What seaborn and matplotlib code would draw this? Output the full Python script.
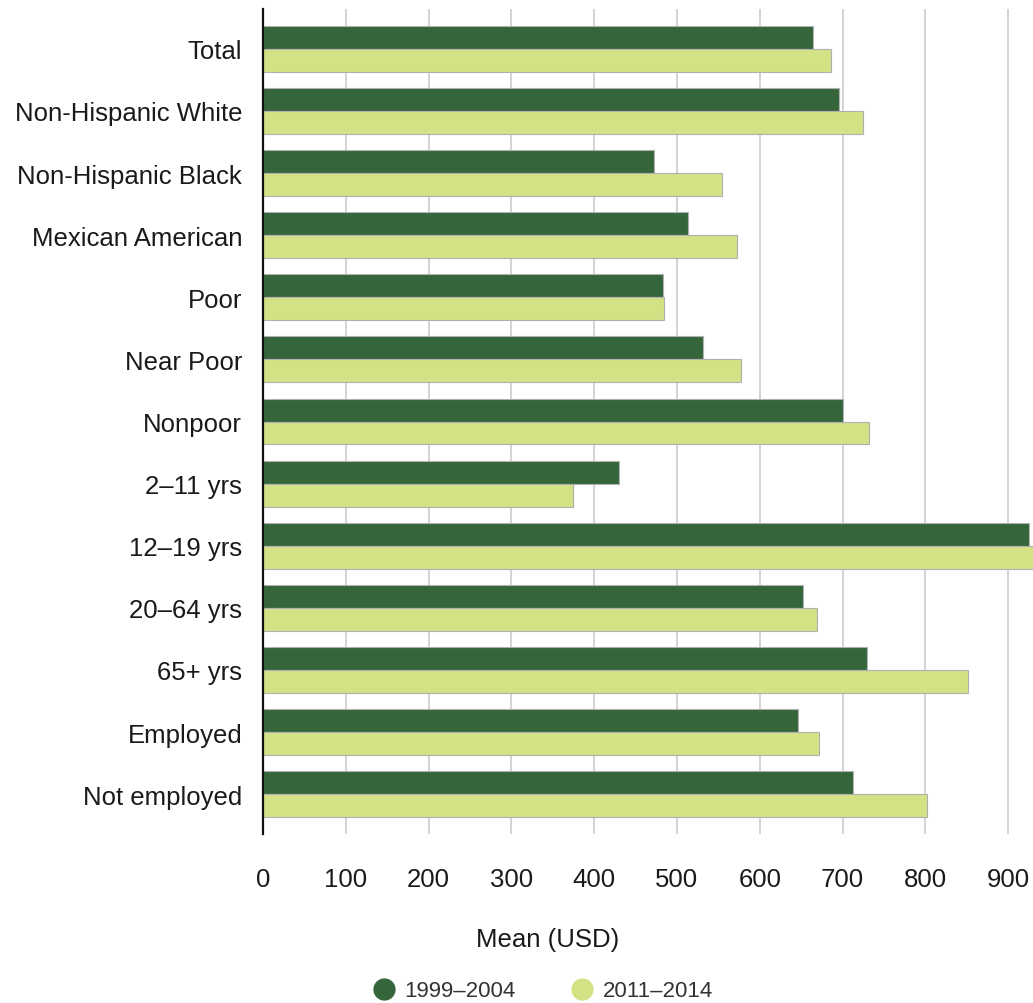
import matplotlib
matplotlib.use("Agg")
import matplotlib.pyplot as plt
from matplotlib.lines import Line2D
import seaborn as sns
import pandas as pd

categories = ["Total", "Non-Hispanic White", "Non-Hispanic Black", "Mexican American",
              "Poor", "Near Poor", "Nonpoor", "2\u201311 yrs", "12\u201319 yrs",
              "20\u201364 yrs", "65+ yrs", "Employed", "Not employed"]
series_names = ["1999\u20132004", "2011\u20132014"]
values_1999_2004 = [664, 696, 472, 513, 483, 532, 700, 430, 925, 652, 729, 646, 713]
values_2011_2014 = [686, 725, 554, 573, 484, 577, 732, 375, 940, 669, 851, 672, 802]
x_ticks = [0, 100, 200, 300, 400, 500, 600, 700, 800, 900]

colors = ["#35653A", "#D4E286"]

df = pd.DataFrame({
    "group": categories * 2,
    "value": values_1999_2004 + values_2011_2014,
    "period": [series_names[0]] * len(categories) + [series_names[1]] * len(categories),
})

sns.set_theme(style="white")
plt.rcParams["font.family"] = ["Liberation Sans", "DejaVu Sans"]

W, H = 1033, 1004
fig = plt.figure(figsize=(W / 100, H / 100), dpi=100)
ax = fig.add_axes([263 / W, (H - 835) / H, (W - 263) / W, 825 / H])

sns.barplot(data=df, y="group", x="value", hue="period", orient="h",
            palette=colors, saturation=1, width=0.74, gap=0,
            edgecolor="#b0b0b0", linewidth=0.8,
            legend=False, ax=ax, zorder=3)

ax.set_xlim(0, 930)
ax.set_ylim(12.64, -0.64)
ax.set_xticks(x_ticks)
ax.set_xticklabels([str(t) for t in x_ticks])
ax.xaxis.grid(True, color="#d4d4d4", linewidth=1.4, zorder=0)
ax.yaxis.grid(False)
ax.set_axisbelow(True)
for s in ["top", "right", "bottom"]:
    ax.spines[s].set_visible(False)
ax.spines["left"].set_color("#111111")
ax.spines["left"].set_linewidth(1.6)
ax.spines["left"].set_zorder(5)
ax.tick_params(axis="x", length=0, pad=24, labelsize=18.5, labelcolor="#1a1a1a")
ax.tick_params(axis="y", length=0, pad=15, labelsize=18.5, labelcolor="#1a1a1a")
ax.set_xlabel("")
ax.set_ylabel("")

fig.text(548 / W, 1 - 940 / H, "Mean (USD)", ha="center", va="center",
         fontsize=18.5, color="#1a1a1a")

handles = [Line2D([0], [0], marker="o", linestyle="", markersize=15,
                  markerfacecolor=c, markeredgecolor=c) for c in colors]
fig.legend(handles, series_names, loc="center", bbox_to_anchor=(543 / W, 1 - 992 / H),
           ncol=2, frameon=False, fontsize=16, handlelength=1.0, handletextpad=0.4,
           columnspacing=2.5, labelcolor="#333333")

fig.savefig("out.png", dpi=100)
